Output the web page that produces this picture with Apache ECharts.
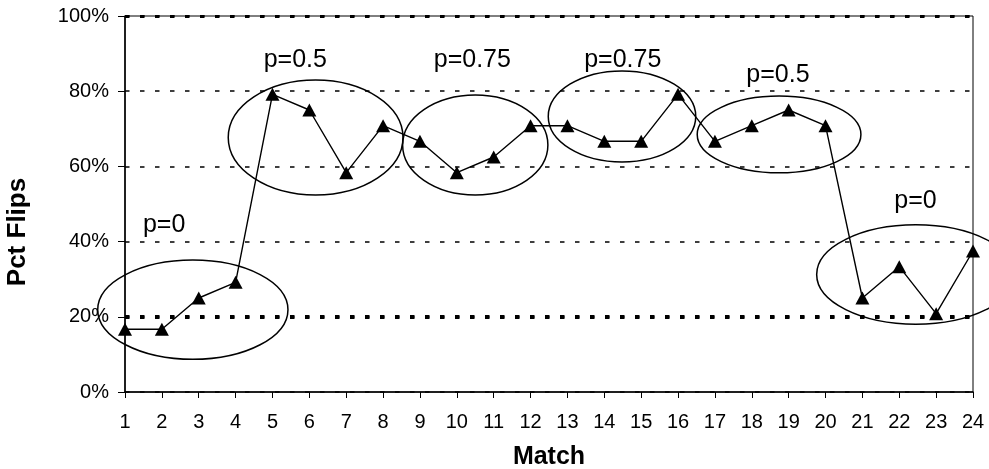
<!DOCTYPE html>
<html>
<head>
<meta charset="utf-8">
<script src="https://cdn.jsdelivr.net/npm/echarts@6/dist/echarts.min.js"></script>
<style>
html,body{margin:0;padding:0;background:#fff;}
#chart{width:989px;height:469px;}
</style>
</head>
<body>
<div id="chart"></div>
<script>
// ---- data ----
var matches = [1,2,3,4,5,6,7,8,9,10,11,12,13,14,15,16,17,18,19,20,21,22,23,24];
var pctFlips = [16.67,16.67,25,29.17,79.17,75,58.33,70.83,66.67,58.33,62.5,70.83,70.83,66.67,66.67,79.17,66.67,70.83,75,70.83,25,33.33,20.83,37.5];
var yTicks = [0,20,40,60,80,100];
var groupLabels = ['p=0','p=0.5','p=0.75','p=0.75','p=0.5','p=0'];
// annotation anchors in data coordinates (match, pct)
var labelMatch = [2.06,5.62,10.42,14.5,18.71,22.44];
var labelPct = [44.5,88.3,88.4,88.4,84.2,50.7];
var ellipseMatch = [2.84,6.17,10.5,14.48,18.74,22.45];
var ellipsePct = [21.9,67.7,65.7,73.3,68.5,31.25];
var ellipseHalfMatch = [2.58,2.37,1.97,2.0,2.22,2.69];
var ellipseHalfPct = [13.2,15.3,13.3,12.1,10.2,13.2];

var font = 'Liberation Sans, Arial, sans-serif';
var chart = echarts.init(document.getElementById('chart'));
var seriesData = matches.map(function(m,i){return [m,pctFlips[i]];});

chart.setOption({
  animation:false,
  backgroundColor:'#fff',
  grid:{left:125,right:16,top:16,bottom:77,show:true,borderColor:'#000',borderWidth:1,containLabel:false,outerBoundsMode:'none'},
  xAxis:{
    type:'value',min:matches[0],max:matches[matches.length-1],interval:1,
    name:'Match',nameLocation:'middle',nameGap:53,
    nameTextStyle:{fontFamily:font,fontWeight:'bold',fontSize:25,color:'#000'},
    axisLine:{show:true,lineStyle:{color:'#000',width:1.5}},
    axisTick:{show:true,length:6,lineStyle:{color:'#000',width:1}},
    axisLabel:{fontFamily:font,fontSize:20,color:'#000',margin:20,
      formatter:function(v){return matches.indexOf(v)>=0?String(v):'';}},
    splitLine:{show:false}
  },
  yAxis:{
    type:'value',min:yTicks[0],max:yTicks[yTicks.length-1],interval:20,
    axisLine:{show:true,lineStyle:{color:'#000',width:1.5}},
    axisTick:{show:true,length:7,lineStyle:{color:'#000',width:1}},
    axisLabel:{fontFamily:font,fontSize:20,color:'#000',margin:16,formatter:'{value}%'},
    splitLine:{show:true,lineStyle:{color:'#000',width:1.6,type:[4.5,10.5]}}
  },
  series:[{
    type:'line',data:seriesData,
    symbol:'triangle',symbolSize:[14,13],
    itemStyle:{color:'#000'},
    lineStyle:{color:'#000',width:1.4},
    markLine:{
      silent:true,symbol:'none',label:{show:false},
      data:[
        {yAxis:20,lineStyle:{color:'#000',width:4,type:[4.5,10.5]}},
        {yAxis:100,lineStyle:{color:'#000',width:3,type:[4.5,10.5]}}
      ]
    },
    z:5
  }]
});

var graphics = [];
for (var i=0;i<ellipseMatch.length;i++){
  var c = chart.convertToPixel({gridIndex:0},[ellipseMatch[i],ellipsePct[i]]);
  var r = chart.convertToPixel({gridIndex:0},[ellipseMatch[i]+ellipseHalfMatch[i],ellipsePct[i]+ellipseHalfPct[i]]);
  graphics.push({type:'ellipse',silent:true,z:10,
    shape:{cx:c[0],cy:c[1],rx:Math.abs(r[0]-c[0]),ry:Math.abs(r[1]-c[1])},
    style:{fill:'none',stroke:'#000',lineWidth:1.5}});
}
for (var j=0;j<groupLabels.length;j++){
  var p = chart.convertToPixel({gridIndex:0},[labelMatch[j],labelPct[j]]);
  graphics.push({type:'text',silent:true,z:10,x:p[0],y:p[1],
    style:{text:groupLabels[j],fontFamily:font,fontSize:25,fill:'#000',align:'center',verticalAlign:'middle'}});
}
graphics.push({type:'text',silent:true,x:18,y:232,rotation:Math.PI/2,
  style:{text:'Pct Flips',fontFamily:font,fontSize:26,fontWeight:'bold',fill:'#000',align:'center',verticalAlign:'middle'}});
chart.setOption({graphic:graphics});
</script>
</body>
</html>
